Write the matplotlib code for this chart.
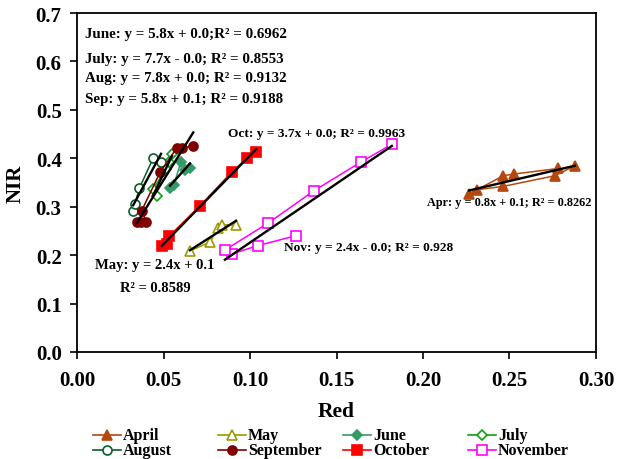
import numpy as np
import matplotlib
matplotlib.use("Agg")
import matplotlib.pyplot as plt
from matplotlib.lines import Line2D

plt.rcParams['font.family'] = ['Liberation Serif', 'DejaVu Serif']
plt.rcParams['font.weight'] = 'bold'

# Red / NIR reflectance per month (points in acquisition order)
apr_red = [0.2878, 0.2763, 0.2464, 0.2310, 0.2267, 0.2464, 0.2528, 0.2782]
apr_nir = [0.3847, 0.3640, 0.3420, 0.3350, 0.3263, 0.3640, 0.3676, 0.3790]

may_red = [0.0653, 0.0769, 0.0815, 0.0838, 0.0919]
may_nir = [0.2086, 0.2272, 0.2560, 0.2630, 0.2620]

jun_red = [0.0538, 0.0560, 0.0600, 0.0653, 0.0625]
jun_nir = [0.3390, 0.3450, 0.3920, 0.3800, 0.3750]

jul_red = [0.0462, 0.0439, 0.0514, 0.0532, 0.0549]
jul_nir = [0.3230, 0.3360, 0.3780, 0.3920, 0.4090]

aug_red = [0.0325, 0.0335, 0.0360, 0.0440, 0.0486]
aug_nir = [0.2920, 0.3056, 0.3380, 0.4000, 0.3920]

sep_red = [0.0347, 0.0370, 0.0400, 0.0374, 0.0480, 0.0576, 0.0605, 0.0672]
sep_nir = [0.2690, 0.2690, 0.2690, 0.2920, 0.3710, 0.4210, 0.4210, 0.4260]

oct_red = [0.0490, 0.0520, 0.0532, 0.0711, 0.0896, 0.0983, 0.1035]
oct_nir = [0.2195, 0.2230, 0.2390, 0.3020, 0.3720, 0.4006, 0.4140]

nov_red = [0.1266, 0.1044, 0.0894, 0.0855, 0.1106, 0.1370, 0.1640, 0.1820]
nov_nir = [0.2402, 0.2195, 0.2024, 0.2106, 0.2664, 0.3330, 0.3920, 0.4290]

series = [
    ("April",     apr_red, apr_nir, "#B5470F", "^", True),
    ("May",       may_red, may_nir, "#9B9B00", "^", False),
    ("June",      jun_red, jun_nir, "#339966", "D", True),
    ("July",      jul_red, jul_nir, "#11A011", "D", False),
    ("August",    aug_red, aug_nir, "#0B5E2A", "o", False),
    ("September", sep_red, sep_nir, "#800000", "o", True),
    ("October",   oct_red, oct_nir, "#FF0000", "s", True),
    ("November",  nov_red, nov_nir, "#FF00FF", "s", False),
]

W, H = 621, 460
fig = plt.figure(figsize=(W / 100, H / 100), dpi=100)
ax = fig.add_axes([77 / W, 1 - 353 / H, (596 - 77) / W, (353 - 14) / H])


def style(col, mk, filled):
    return dict(color=col, marker=mk, markersize=5.5 if mk == "D" else 6.5,
                markerfacecolor=col if filled else "white",
                markeredgecolor=col, markeredgewidth=1.2)


for name, xs, ys, col, mk, filled in series:
    ax.plot(xs, ys, linewidth=1.1, zorder=3, **style(col, mk, filled))

# least-squares trend lines
for name, xs, ys, col, mk, filled in series:
    k, b = np.polyfit(xs, ys, 1)
    xx = np.array([min(xs), max(xs)])
    ax.plot(xx, k * xx + b, color="black", linewidth=1.7, zorder=4)

xt = np.arange(0, 0.301, 0.05)
yt = np.arange(0, 0.701, 0.1)
ax.set_xlim(0, 0.30)
ax.set_ylim(0, 0.7)
ax.set_xticks(xt)
ax.set_yticks(yt)
ax.set_xticklabels([f"{v:.2f}" for v in xt])
ax.set_yticklabels([f"{v:.1f}" for v in yt])
ax.tick_params(direction="out", length=5, width=1.2, labelsize=15)
ax.tick_params(axis="x", pad=8)
ax.tick_params(axis="y", pad=6)
for lab in ax.get_xticklabels() + ax.get_yticklabels():
    lab.set_fontweight("bold")
for s in ax.spines.values():
    s.set_linewidth(1.3)

ax.set_xlabel("Red", fontsize=15.5, fontweight="bold", labelpad=8)
ax.set_ylabel("NIR", fontsize=15, fontweight="bold", labelpad=7)

big = 10.8
ax.text(0.0046, 0.657, "June: y = 5.8x + 0.0;R² = 0.6962", fontsize=big, va="center")
ax.text(0.0046, 0.6065, "July: y = 7.7x - 0.0; R² = 0.8553", fontsize=big, va="center")
ax.text(0.0046, 0.567, "Aug: y = 7.8x + 0.0; R² = 0.9132", fontsize=big, va="center")
ax.text(0.0046, 0.524, "Sep: y = 5.8x + 0.1; R² = 0.9188", fontsize=big, va="center")
ax.text(0.0873, 0.452, "Oct: y = 3.7x + 0.0; R² = 0.9963", fontsize=9.6, va="center")
ax.text(0.2975, 0.309, "Apr: y = 0.8x + 0.1; R² = 0.8262", fontsize=8.8, va="center", ha="right")
ax.text(0.1196, 0.2174, "Nov: y = 2.4x - 0.0; R² = 0.928", fontsize=9.6, va="center")
ax.text(0.0451, 0.1817, "May: y = 2.4x + 0.1", fontsize=10.5, va="center", ha="center")
ax.text(0.0451, 0.134, "R² = 0.8589", fontsize=10.5, va="center", ha="center")

# legend: four equal-width columns, two rows
col_x = [93, 218, 343, 468]
row_y = [436, 451]
for i, (name, xs, ys, col, mk, filled) in enumerate(series):
    r, c = divmod(i, 4)
    x0 = col_x[c] / W
    x1 = (col_x[c] + 28) / W
    y = 1 - row_y[r] / H
    fig.add_artist(Line2D([x0, x1], [y, y], transform=fig.transFigure,
                          color=col, linewidth=1.2))
    fig.add_artist(Line2D([(x0 + x1) / 2], [y], transform=fig.transFigure,
                          linestyle="none", **style(col, mk, filled)))
    fig.text(x1 + 2 / W, y, name, fontsize=11.5, fontweight="bold",
             va="center", ha="left")

fig.savefig("out.png", dpi=100)
